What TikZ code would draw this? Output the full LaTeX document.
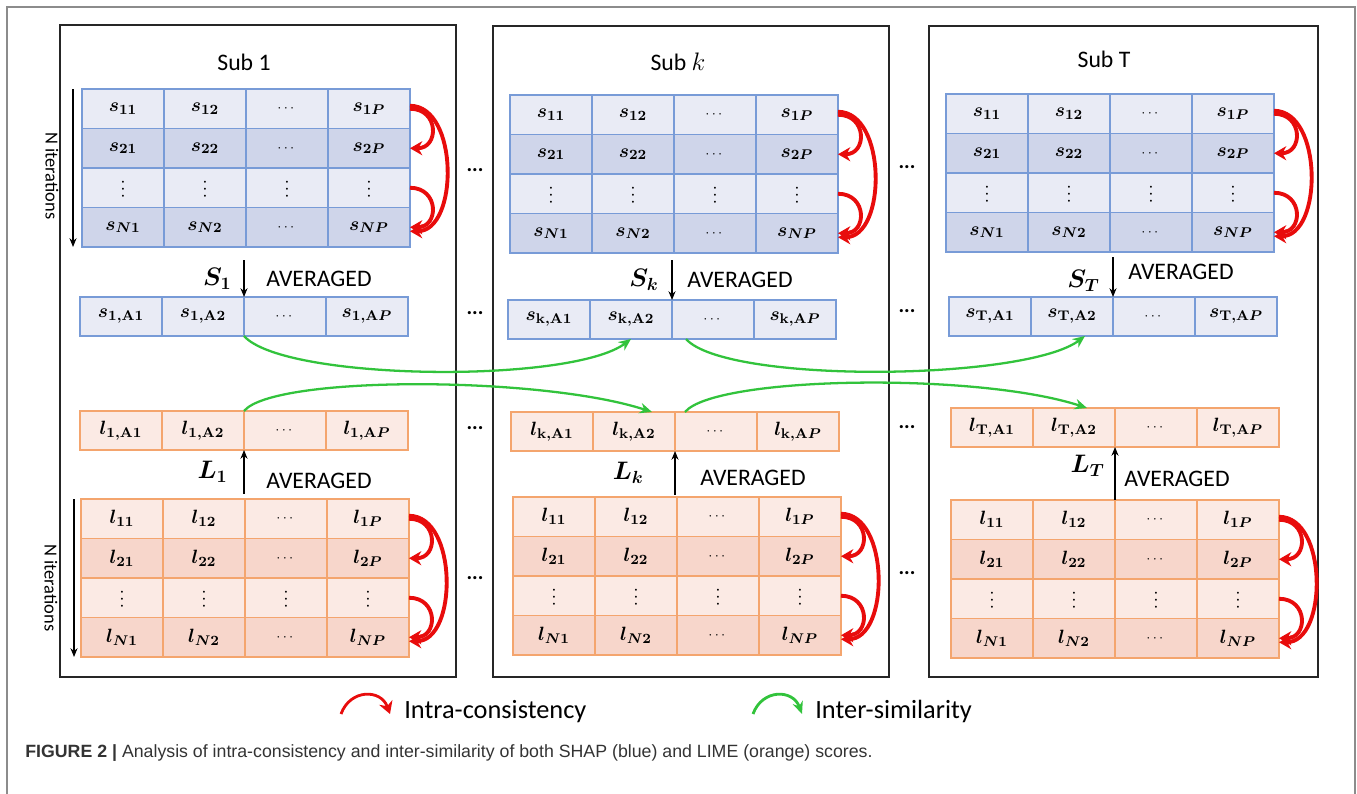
\documentclass[tikz,border=0pt]{standalone}
\usepackage{amsmath,amssymb}
\usepackage[no-math]{fontspec}
\setmainfont{Carlito}
\newfontfamily\capfont{Liberation Sans}
\usetikzlibrary{arrows.meta,calc,positioning}

\definecolor{slight}{RGB}{233,235,245}
\definecolor{sdark}{RGB}{207,213,234}
\definecolor{sline}{RGB}{120,155,215}
\definecolor{llight}{RGB}{251,234,228}
\definecolor{ldark}{RGB}{247,214,203}
\definecolor{lline}{RGB}{244,165,110}
\definecolor{intrared}{RGB}{232,12,12}
\definecolor{intergreen}{RGB}{50,195,60}

\tikzset{
  cell/.style={minimum width=1.64cm,minimum height=0.79cm,inner sep=0pt,outer sep=0pt,
    line width=0.7pt,font=\fontsize{11}{13}\selectfont\boldmath},
  panel/.style={line width=1.2pt,draw=black!85},
  avglbl/.style={font=\fontsize{13.5}{16}\selectfont,inner sep=1pt},
  biglbl/.style={font=\fontsize{14.5}{16}\selectfont\boldmath,inner sep=1pt},
  sublbl/.style={font=\fontsize{13.5}{16}\selectfont},
  dotlbl/.style={font=\fontsize{12}{14}\selectfont\bfseries},
  intra/.style={draw=intrared,line width=2.2pt,-{Stealth[length=7pt,width=8pt]}},
  inter/.style={draw=intergreen,line width=1.3pt,-{Stealth[length=7pt,width=6pt]}},
  avgarr/.style={line width=0.6pt,-{Stealth[length=5pt,width=4pt]}},
}

% cell texts
\newcommand\rowid[1]{\ifcase#1\or1\or2\or\or N\fi}
\newcommand\colid[1]{\ifcase#1\or1\or2\or\or P\fi}
\newcommand\celltxt[3]{\ifnum#2=3 {\scriptsize\rotatebox{90}{$\cdots$}}\else\ifnum#3=3 {\fontsize{5.5}{6}\selectfont$\cdots$}\else$#1_{\rowid{#2}\colid{#3}}$\fi\fi}
\newcommand\avgtxt[3]{\ifcase#3\or$#1_{#2,\mathrm{A}1}$\or$#1_{#2,\mathrm{A}2}$\or{\fontsize{5.5}{6}\selectfont$\cdots$}\or$#1_{#2,\mathrm{A}P}$\fi}

% N x P table: name, left, top, s/l
\newcommand\bigtable[4]{%
  \foreach \r/\fc in {1/#4light,2/#4dark,3/#4light,4/#4dark}{
    \foreach \c in {1,...,4}{
      \node[cell,draw=#4line,fill=\fc] (#1-\r-\c) at ({#2+82*\c-41},{#3+39.5*\r-19.75}) {\celltxt{#4}{\r}{\c}};
    }}%
}
% averaged row: name, left, top, s/l, index
\newcommand\avgrow[5]{%
  \foreach \c in {1,...,4}{
    \node[cell,minimum height=0.78cm,draw=#4line,fill=#4light] (#1-\c) at ({#2+82*\c-41},{#3+19.5}) {\avgtxt{#4}{#5}{\c}};
  }%
}
% intra-consistency arrows on a table
\newcommand\intraarrows[1]{%
  \draw[intra] (#1-1-4.east) to[out=0,in=0,looseness=1.9] (#1-2-4.east);
  \draw[intra] (#1-3-4.east) to[out=0,in=0,looseness=1.9] (#1-4-4.east);
  \draw[intra] ([yshift=0.06cm]#1-1-4.east) to[out=0,in=0,looseness=1] ([yshift=-0.08cm]#1-4-4.east);
}

\begin{document}
\begin{tikzpicture}[x=0.02cm,y=-0.02cm]
  \useasboundingbox (0,0) rectangle (1357,794);
  \draw[black!45,line width=0.6pt] (7,794) -- (7,7) -- (1355,7) -- (1355,794);

  % the three subjects
  \draw[panel] (60,25) rectangle (456,677);
  \draw[panel] (493,26) rectangle (889,677);
  \draw[panel] (929,26) rectangle (1318,677);
  \node[sublbl] (t1) at (244,62) {Sub 1};
  \node[sublbl] (tk) at (678,62) {Sub $k$};
  \node[sublbl] (tT) at (1104,59) {Sub T};

  \bigtable{s1}{82}{89}{s}
  \avgrow{s1a}{80}{297}{s}{1}
  \avgrow{l1a}{80}{411}{l}{1}
  \bigtable{l1}{81}{499}{l}

  \bigtable{sk}{510}{95}{s}
  \avgrow{ska}{508}{300}{s}{\mathrm{k}}
  \avgrow{lka}{511}{412}{l}{\mathrm{k}}
  \bigtable{lk}{513}{497}{l}

  \bigtable{sT}{946}{94}{s}
  \avgrow{sTa}{949}{297}{s}{\mathrm{T}}
  \avgrow{lTa}{951}{408}{l}{\mathrm{T}}
  \bigtable{lT}{951}{500}{l}

  % N iterations
  \draw[avgarr] ([xshift=-0.18cm]s1-1-1.north west) -- ([xshift=-0.18cm]s1-4-1.south west);
  \draw[avgarr] ([xshift=-0.14cm]l1-1-1.north west) -- ([xshift=-0.14cm]l1-4-1.south west);
  \node[sublbl,font=\fontsize{10.5}{12}\selectfont,rotate=-90] (it1) at (52,176) {N iterations};
  \node[sublbl,font=\fontsize{10.5}{12}\selectfont,rotate=-90] (it2) at (51,588) {N iterations};

  % averaging
  \draw[avgarr] ([yshift=0.74cm]s1a-3.north west) -- node[biglbl,left=0.2cm]{$S_1$} node[avglbl,right=0.4cm]{AVERAGED} (s1a-3.north west);
  \draw[avgarr] ([yshift=-0.88cm]l1a-3.south west) -- node[biglbl,left=0.28cm]{$L_1$} node[avglbl,pos=.3,right=0.4cm]{AVERAGED} (l1a-3.south west);
  \draw[avgarr] ([yshift=0.8cm]ska-3.north west) -- node[biglbl,left=0.22cm]{$S_k$} node[avglbl,right=0.26cm]{AVERAGED} (ska-3.north west);
  \draw[avgarr] ([yshift=-0.88cm]lka-3.south west) -- node[biglbl,left=0.58cm]{$L_k$} node[avglbl,pos=.4,right=0.46cm]{AVERAGED} (lka-3.south west);
  \draw[avgarr] ([yshift=0.8cm]sTa-3.north west) -- node[biglbl,pos=.6,left=0.22cm]{$S_T$} node[avglbl,pos=.37,right=0.26cm]{AVERAGED} (sTa-3.north west);
  \draw[avgarr] ([yshift=-1.06cm]lTa-3.south west) -- node[biglbl,pos=.65,left=0.16cm]{$L_T$} node[avglbl,pos=.4,right=0.14cm]{AVERAGED} (lTa-3.south west);

  % intra-consistency
  \intraarrows{s1}
  \intraarrows{l1}
  \intraarrows{sk}
  \intraarrows{lk}
  \intraarrows{sT}
  \intraarrows{lT}

  % inter-similarity
  \draw[inter] (s1a-2.south east) .. controls +(40,45) and +(-60,45) .. (ska-2.south);
  \draw[inter] (l1a-2.north east) .. controls +(30,-36) and +(-110,-36) .. ([xshift=0.36cm]lka-2.north);
  \draw[inter] ([xshift=0.28cm]ska-3.south west) .. controls +(40,45) and +(-60,45) .. ([xshift=0.26cm]sTa-2.south);
  \draw[inter] ([xshift=0.2cm]lka-3.north west) .. controls +(30,-36) and +(-110,-36) .. ([xshift=0.26cm]lTa-2.north);

  % dots between subjects
  \foreach \i/\x/\y in {1/475/170,2/475/313,3/475/428,4/475/578,5/907/167,6/907/311,7/907/427,8/907/573}
    \node[dotlbl] (d\i) at (\x,\y) {...};

  % legend
  \coordinate (lr1) at (341,714);
  \coordinate (lr2) at (390,714);
  \coordinate (lg1) at (753,714);
  \coordinate (lg2) at (802,714);
  \draw[intra,line width=1.6pt] (lr1) to[out=70,in=110,looseness=1.4] (lr2);
  \draw[inter,line width=1.6pt] (lg1) to[out=70,in=110,looseness=1.4] (lg2);
  \node[anchor=base west,inner sep=0pt,font=\fontsize{15}{18}\selectfont] (lgi) at (404,718) {Intra-consistency};
  \node[anchor=base west,inner sep=0pt,font=\fontsize{15}{18}\selectfont] (lge) at (815,718) {Inter-similarity};

  % caption
  \node[anchor=base west,inner sep=0pt,text=black!80,font=\capfont\fontsize{10.1}{12}\selectfont] (cap) at (25,757)
    {\textbf{FIGURE 2 |} Analysis of intra-consistency and inter-similarity of both SHAP (blue) and LIME (orange) scores.};
\end{tikzpicture}
\end{document}
